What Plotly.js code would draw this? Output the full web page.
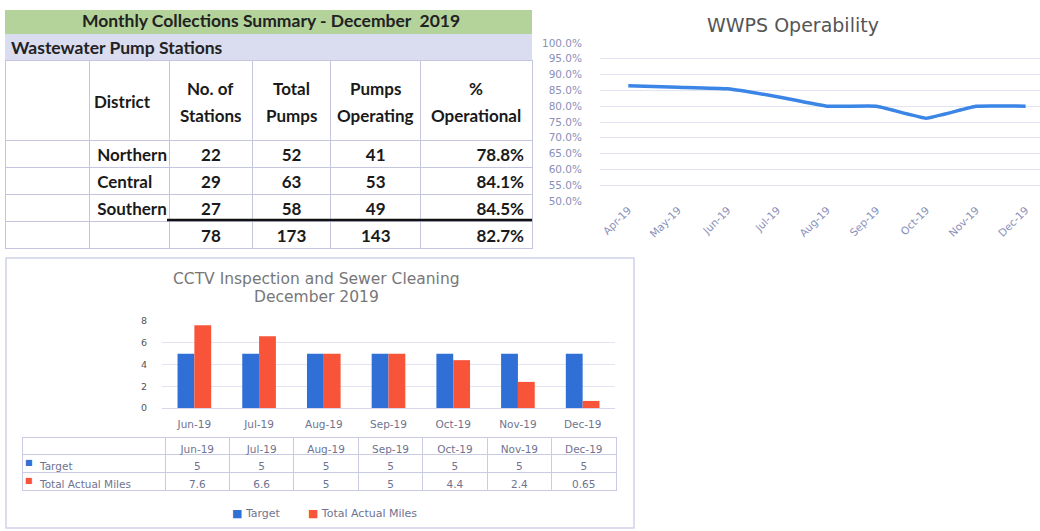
<!DOCTYPE html>
<html>
<head>
<meta charset="utf-8">
<script src="https://cdn.plot.ly/plotly-3.0.1.min.js"></script>
<style>html,body{margin:0;padding:0;background:#fff;}#chart{width:1040px;height:531px;}</style>
</head>
<body>
<div id="chart"></div>
<script>
// ---- Pump station summary table ----
const districts = ['Northern', 'Central', 'Southern', ''];
const stations = [22, 29, 27, 78];
const totalPumps = [52, 63, 58, 173];
const pumpsOperating = [41, 53, 49, 143];
const pctOperational = ['78.8%', '84.1%', '84.5%', '82.7%'];
const tableHeaders = ['', 'District', 'No. of<br>Stations', 'Total<br>Pumps', 'Pumps<br>Operating', '%<br>Operational'];

// ---- WWPS Operability line ----
const opMonths = ['Apr-19', 'May-19', 'Jun-19', 'Jul-19', 'Aug-19', 'Sep-19', 'Oct-19', 'Nov-19', 'Dec-19'];
const operability = [86.5, 86.0, 85.5, 83.0, 80.0, 80.0, 76.2, 80.0, 80.0];

// ---- CCTV inspection bars ----
const cctvMonths = ['Jun-19', 'Jul-19', 'Aug-19', 'Sep-19', 'Oct-19', 'Nov-19', 'Dec-19'];
const target = [5, 5, 5, 5, 5, 5, 5];
const actualMiles = [7.6, 6.6, 5, 5, 4.4, 2.4, 0.65];
const actualLabels = ['7.6', '6.6', '5', '5', '4.4', '2.4', '0.65'];
const seriesNames = ['Target', 'Total Actual Miles'];

const W = 1040, H = 531;
const px = p => p / W;
const py = p => 1 - p / H;

const BLUE = '#2f6fd6', RED = '#f7543a', LINE = '#3a85e6';
const FONT = 'Lato, "Open Sans", sans-serif';
const WIDE = '"DejaVu Sans", Verdana, sans-serif';
const TICK = '#8a8fb8';
const GRID = '#e2e4f2';
const GREYTXT = '#6f7390';

const colW = [84, 80, 83, 78, 90, 111];
const tableLeft = 5;

const traces = [];

// Top-left table (header text drawn as annotations for vertical placement)
traces.push({
  type: 'table',
  domain: {x: [px(tableLeft), px(532)], y: [py(252), py(60)]},
  columnwidth: colW,
  header: {
    values: tableHeaders.map(() => ''),
    height: 80,
    line: {color: '#c4c6e0', width: 1},
    fill: {color: '#ffffff'},
    font: {family: FONT, size: 17, color: '#222'}
  },
  cells: {
    values: [['', '', '', ''], districts, stations, totalPumps, pumpsOperating, pctOperational],
    height: 27,
    align: ['left', 'left', 'center', 'center', 'center', 'right'],
    line: {color: '#c4c6e0', width: 1},
    fill: {color: '#ffffff'},
    font: {family: FONT, size: 17, color: '#1a1a1a', weight: 'bold'}
  }
});

// WWPS line
traces.push({
  type: 'scatter', mode: 'lines',
  x: opMonths, y: operability,
  xaxis: 'x', yaxis: 'y',
  line: {color: LINE, width: 3.5, shape: 'spline', smoothing: 0.3},
  showlegend: false, hoverinfo: 'skip'
});

// CCTV bars
traces.push({
  type: 'bar', name: seriesNames[0], x: cctvMonths, y: target,
  xaxis: 'x2', yaxis: 'y2', marker: {color: BLUE}, showlegend: false
});
traces.push({
  type: 'bar', name: seriesNames[1], x: cctvMonths, y: actualMiles,
  xaxis: 'x2', yaxis: 'y2', marker: {color: RED}, showlegend: false
});

// CCTV data table
traces.push({
  type: 'table',
  domain: {x: [px(22), px(616)], y: [py(495), py(437)]},
  columnwidth: [143].concat(cctvMonths.map(() => 64.4)),
  header: {
    values: [''].concat(cctvMonths),
    height: 17,
    align: 'center',
    line: {color: '#c9cbe2', width: 1},
    fill: {color: '#ffffff'},
    font: {family: WIDE, size: 10.5, color: GREYTXT}
  },
  cells: {
    values: [seriesNames.map(n => '   ' + n)].concat(cctvMonths.map((m, i) => [String(target[i]), actualLabels[i]])),
    height: 18,
    align: ['left', 'center', 'center', 'center', 'center', 'center', 'center', 'center'],
    line: {color: '#c9cbe2', width: 1},
    fill: {color: '#ffffff'},
    font: {family: WIDE, size: 10.5, color: GREYTXT}
  }
});

// Header annotations from tableHeaders
const headerAnn = [];
let cx = tableLeft;
tableHeaders.forEach((h, i) => {
  const w = colW[i];
  const lines = h.split('<br>');
  lines.forEach((ln, j) => {
    if (!ln) return;
    const yPix = lines.length === 1 ? 101 : 89 + j * 26;
    headerAnn.push({
      text: '<b>' + ln + '</b>', xref: 'paper', yref: 'paper',
      x: i === 1 ? px(cx + 3) : px(cx + w / 2), xanchor: i === 1 ? 'left' : 'center',
      y: py(yPix), yanchor: 'middle', showarrow: false,
      font: {family: FONT, size: 17, color: '#1a1a1a'}
    });
  });
  cx += w;
});

// Color keys in the CCTV data table
const keyAnn = [BLUE, RED].map((c, i) => ({
  text: '■', xref: 'paper', yref: 'paper', x: px(29), y: py(462 + i * 18),
  xanchor: 'center', yanchor: 'middle', showarrow: false,
  font: {family: WIDE, size: 8, color: c}
}));

// Legend (below the chart) from seriesNames
const legendAnn = {
  text: '<span style="color:' + BLUE + '">■</span> ' + seriesNames[0] +
        '        <span style="color:' + RED + '">■</span> ' + seriesNames[1],
  xref: 'paper', yref: 'paper', x: px(324), y: py(513), xanchor: 'center', yanchor: 'middle',
  showarrow: false, font: {family: WIDE, size: 11, color: GREYTXT}
};

const layout = {
  width: W, height: H,
  margin: {l: 0, r: 0, t: 0, b: 0},
  paper_bgcolor: '#ffffff', plot_bgcolor: 'rgba(0,0,0,0)',
  font: {family: FONT},
  showlegend: false,
  barmode: 'group', bargap: 0.48, bargroupgap: 0,
  xaxis: {
    domain: [px(600), 1], range: [-0.57, 8.29], type: 'category', anchor: 'y',
    showgrid: false, zeroline: false, showline: false, ticks: '',
    tickangle: -45, tickfont: {family: WIDE, size: 10.5, color: TICK}
  },
  yaxis: {
    domain: [py(201), py(43)], range: [50, 100], dtick: 5, anchor: 'x',
    ticksuffix: '%', tickformat: '.1f', ticklabelstandoff: 17,
    showgrid: true, gridcolor: GRID, gridwidth: 1, zeroline: false,
    tickfont: {family: WIDE, size: 10.5, color: TICK}
  },
  xaxis2: {
    domain: [px(162), px(615)], range: [-0.5, 6.5], type: 'category', anchor: 'y2',
    showgrid: false, zeroline: false, showline: false, ticks: '', ticklabelstandoff: 8,
    tickfont: {family: WIDE, size: 10.5, color: GREYTXT}
  },
  yaxis2: {
    domain: [py(408), py(321)], range: [0, 8], dtick: 2, anchor: 'x2',
    ticklabelstandoff: 14,
    showgrid: true, gridcolor: GRID, zeroline: true, zerolinecolor: '#d6d8ea',
    tickfont: {family: WIDE, size: 9.5, color: '#555'}
  },
  shapes: [
    {type: 'rect', xref: 'paper', yref: 'paper', x0: px(5), x1: px(532), y0: py(34), y1: py(10),
     fillcolor: '#b3d39a', line: {width: 0}, layer: 'below'},
    {type: 'rect', xref: 'paper', yref: 'paper', x0: px(5), x1: px(532), y0: py(60), y1: py(34),
     fillcolor: '#dadcef', line: {width: 0}, layer: 'below'},
    {type: 'line', xref: 'paper', yref: 'paper', x0: px(167), x1: px(532), y0: py(220), y1: py(220),
     line: {color: '#111', width: 2.5}},
    {type: 'rect', xref: 'paper', yref: 'paper', x0: px(6), x1: px(634), y0: py(528), y1: py(258),
     fillcolor: 'rgba(0,0,0,0)', line: {color: '#cfd1e8', width: 1.5}}
  ],
  annotations: [
    {text: '<b>Monthly Collections Summary - December  2019</b>', xref: 'paper', yref: 'paper',
     x: px(271), y: py(21), xanchor: 'center', yanchor: 'middle', showarrow: false,
     font: {family: FONT, size: 17.5, color: '#222'}},
    {text: '<b>Wastewater Pump Stations</b>', xref: 'paper', yref: 'paper',
     x: px(9), y: py(47), xanchor: 'left', yanchor: 'middle', showarrow: false,
     font: {family: FONT, size: 17.5, color: '#222'}},
    {text: 'WWPS Operability', xref: 'paper', yref: 'paper',
     x: px(793), y: py(25), xanchor: 'center', yanchor: 'middle', showarrow: false,
     font: {family: WIDE, size: 19, color: '#555'}},
    {text: 'CCTV Inspection and Sewer Cleaning', xref: 'paper', yref: 'paper',
     x: px(316), y: py(279), xanchor: 'center', yanchor: 'middle', showarrow: false,
     font: {family: WIDE, size: 15.5, color: '#777'}},
    {text: 'December 2019', xref: 'paper', yref: 'paper',
     x: px(316), y: py(297), xanchor: 'center', yanchor: 'middle', showarrow: false,
     font: {family: WIDE, size: 15.5, color: '#777'}},
    legendAnn
  ].concat(headerAnn, keyAnn)
};

Plotly.newPlot('chart', traces, layout, {displayModeBar: false, staticPlot: true});
</script>
</body>
</html>
